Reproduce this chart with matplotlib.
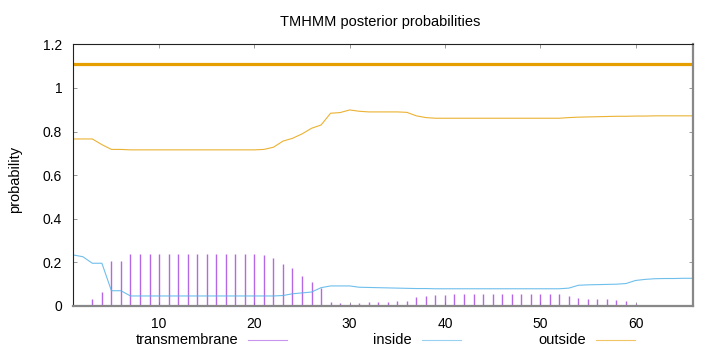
import matplotlib
matplotlib.use("Agg")
import matplotlib.pyplot as plt
from matplotlib.lines import Line2D

plt.rcParams["font.family"] = ["Liberation Sans", "DejaVu Sans"]

# posterior probabilities per residue (1..66)
positions = list(range(1, 67))

transmembrane = [
    0.000, 0.005, 0.032, 0.066, 0.208, 0.208, 0.237, 0.237, 0.237, 0.237,
    0.237, 0.237, 0.237, 0.237, 0.237, 0.237, 0.237, 0.237, 0.237, 0.237,
    0.235, 0.222, 0.193, 0.176, 0.139, 0.110, 0.082, 0.019, 0.014, 0.008,
    0.014, 0.019, 0.020, 0.020, 0.023, 0.025, 0.041, 0.046, 0.052, 0.052,
    0.055, 0.057, 0.057, 0.057, 0.057, 0.057, 0.057, 0.057, 0.057, 0.057,
    0.057, 0.057, 0.047, 0.037, 0.032, 0.031, 0.031, 0.028, 0.023, 0.009,
    0.004, 0.000, 0.000, 0.000, 0.000, 0.000,
]

inside = [
    0.234, 0.226, 0.196, 0.196, 0.070, 0.070, 0.046, 0.046, 0.046, 0.046,
    0.046, 0.046, 0.046, 0.046, 0.046, 0.046, 0.046, 0.046, 0.046, 0.046,
    0.046, 0.046, 0.048, 0.056, 0.060, 0.064, 0.084, 0.092, 0.092, 0.092,
    0.086, 0.085, 0.084, 0.083, 0.082, 0.081, 0.080, 0.080, 0.079, 0.079,
    0.079, 0.079, 0.079, 0.079, 0.079, 0.079, 0.079, 0.079, 0.079, 0.079,
    0.079, 0.079, 0.082, 0.095, 0.097, 0.098, 0.099, 0.100, 0.103, 0.117,
    0.122, 0.125, 0.126, 0.126, 0.127, 0.127,
]

outside = [
    0.766, 0.766, 0.766, 0.740, 0.718, 0.718, 0.716, 0.716, 0.716, 0.716,
    0.716, 0.716, 0.716, 0.716, 0.716, 0.716, 0.716, 0.716, 0.716, 0.716,
    0.718, 0.728, 0.756, 0.769, 0.789, 0.815, 0.830, 0.884, 0.887, 0.899,
    0.893, 0.890, 0.890, 0.890, 0.890, 0.888, 0.872, 0.864, 0.861, 0.861,
    0.861, 0.861, 0.861, 0.861, 0.861, 0.861, 0.861, 0.861, 0.861, 0.861,
    0.861, 0.861, 0.864, 0.866, 0.867, 0.868, 0.869, 0.870, 0.870, 0.871,
    0.871, 0.872, 0.872, 0.872, 0.872, 0.872,
]

# predicted topology: whole sequence outside
topology_level = 1.11

TM_COL = "#a64de0"
IN_COL = "#56b4e9"
OUT_COL = "#e69f00"

fig = plt.figure(figsize=(7.2, 3.52), dpi=100)
ax = fig.add_axes([0.1018, 0.1307, 0.8603, 0.7434])

ax.vlines(positions, 0, transmembrane, color=TM_COL, lw=1.0, alpha=0.85)
ax.plot(positions, inside, color=IN_COL, lw=0.8, alpha=0.85)
ax.plot(positions, outside, color=OUT_COL, lw=0.8, alpha=0.8)
ax.plot([positions[0], positions[-1]], [topology_level, topology_level],
        color=OUT_COL, lw=2.3, solid_capstyle="butt")

ax.set_xlim(1, 66)
ax.set_ylim(0, 1.2)
ax.set_xticks([10, 20, 30, 40, 50, 60])
yt = [0, 0.2, 0.4, 0.6, 0.8, 1.0, 1.2]
ax.set_yticks(yt)
ax.set_yticklabels(["0", "0.2", "0.4", "0.6", "0.8", "1", "1.2"])
ax.tick_params(direction="in", length=3, width=0.6, color="#888888",
               top=True, right=True, labelsize=10, pad=8)

for side in ("top", "left"):
    ax.spines[side].set_color("#222222")
    ax.spines[side].set_linewidth(0.8)
for side in ("right", "bottom"):
    ax.spines[side].set_color("#888888")
    ax.spines[side].set_linewidth(1.6)

fig.text(0.528, 0.938, "TMHMM posterior probabilities", ha="center",
         va="center", fontsize=10.5)
fig.text(0.021, 0.49, "probability", rotation=90, ha="center", va="center",
         fontsize=10.5)

# legend along the bottom, gnuplot style (label then sample line)
legend_y = 1 - 340 / 352
for label, col, txt_end, l0, l1 in [
    ("transmembrane", TM_COL, 238, 248, 287),
    ("inside", IN_COL, 412, 422, 461),
    ("outside", OUT_COL, 586, 596, 635),
]:
    fig.text(txt_end / 720, legend_y, label, ha="right", va="center",
             fontsize=10.5)
    fig.add_artist(Line2D([l0 / 720, l1 / 720], [legend_y, legend_y],
                          color=col, lw=0.8, alpha=0.6,
                          transform=fig.transFigure))

fig.savefig("out.png", dpi=100)
